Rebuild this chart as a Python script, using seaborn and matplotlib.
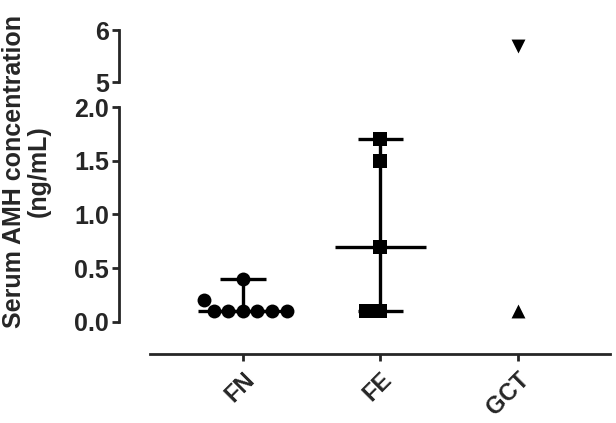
import numpy as np
import pandas as pd
import matplotlib
matplotlib.use('Agg')
import matplotlib.pyplot as plt
import seaborn as sns

# serum AMH (ng/mL) per group
groups = ['FN', 'FE', 'GCT']
fn_values = [0.1, 0.1, 0.1, 0.1, 0.1, 0.1, 0.2, 0.4]
fe_values = [0.1, 0.1, 0.7, 1.5, 1.7]
gct_values = [0.1, 5.7]
fn_markers = ['o'] * len(fn_values)
fe_markers = ['s'] * len(fe_values)
gct_markers = ['^', 'v']
range_groups = ['FN', 'FE']   # groups drawn with median and range

df = pd.DataFrame({
    'group': ['FN'] * len(fn_values) + ['FE'] * len(fe_values) + ['GCT'] * len(gct_values),
    'value': fn_values + fe_values + gct_values,
    'marker': fn_markers + fe_markers + gct_markers,
})

sns.set_style('ticks')
plt.rcParams['font.family'] = ['Liberation Sans', 'DejaVu Sans']
plt.rcParams['font.weight'] = 'bold'

fig = plt.figure(figsize=(6.16, 4.23), dpi=100)
ax_low = fig.add_axes([0.193, 0.1631, 0.797, 0.5839])
ax_up = fig.add_axes([0.193, 0.806, 0.797, 0.123])

low_lim = (-0.298, 2.0)
up_lim = (5.0, 6.0)

for ax, (lo, hi) in [(ax_low, low_lim), (ax_up, up_lim)]:
    part = df[(df['value'] >= lo) & (df['value'] <= hi)]
    for (g, m), sub in part.groupby(['group', 'marker']):
        sns.swarmplot(data=sub, x='group', y='value', order=groups, marker=m,
                      color='black', size=10, linewidth=0, ax=ax, clip_on=False)

# median with range
for g in range_groups:
    i = groups.index(g)
    vals = df.loc[df['group'] == g, 'value'].to_numpy()
    med, vmin, vmax = np.median(vals), vals.min(), vals.max()
    ax_low.hlines(med, i - 0.33, i + 0.33, color='black', lw=2.4, zorder=1)
    ax_low.vlines(i, vmin, vmax, color='black', lw=2.4, zorder=1)
    ax_low.hlines([vmin, vmax], i - 0.165, i + 0.165, color='black', lw=2.4, zorder=1)

for ax in (ax_low, ax_up):
    ax.set_xlim(-0.902, 2.669)
    ax.set_xlabel('')
    ax.set_ylabel('')
    ax.spines['top'].set_visible(False)
    ax.spines['right'].set_visible(False)
    for s in ax.spines.values():
        s.set_linewidth(2.0)
    ax.tick_params(width=2.0, length=5, pad=2, labelsize=18)

ax_low.set_ylim(*low_lim)
ax_low.set_yticks([0.0, 0.5, 1.0, 1.5, 2.0])
ax_low.set_yticklabels(['0.0', '0.5', '1.0', '1.5', '2.0'])
ax_low.spines['left'].set_bounds(0.0, 2.0)
ax_low.spines['bottom'].set_bounds(-0.676, 2.669)
ax_low.set_xticks(range(len(groups)))
ax_low.set_xticklabels(groups, rotation=45, ha='right', rotation_mode='anchor')
ax_low.tick_params(axis='x', labelsize=17, pad=5)

ax_up.set_ylim(*up_lim)
ax_up.set_yticks([5, 6])
ax_up.set_yticklabels(['5', '6'])
ax_up.spines['bottom'].set_visible(False)
ax_up.set_xticks([])
ax_up.patch.set_alpha(0)

fig.text(0.043, 0.595, 'Serum AMH concentration\n(ng/mL)', rotation=90,
         ha='center', va='center', multialignment='center',
         fontsize=18, fontweight='bold', linespacing=1.05)

fig.savefig('out.png', dpi=100)
